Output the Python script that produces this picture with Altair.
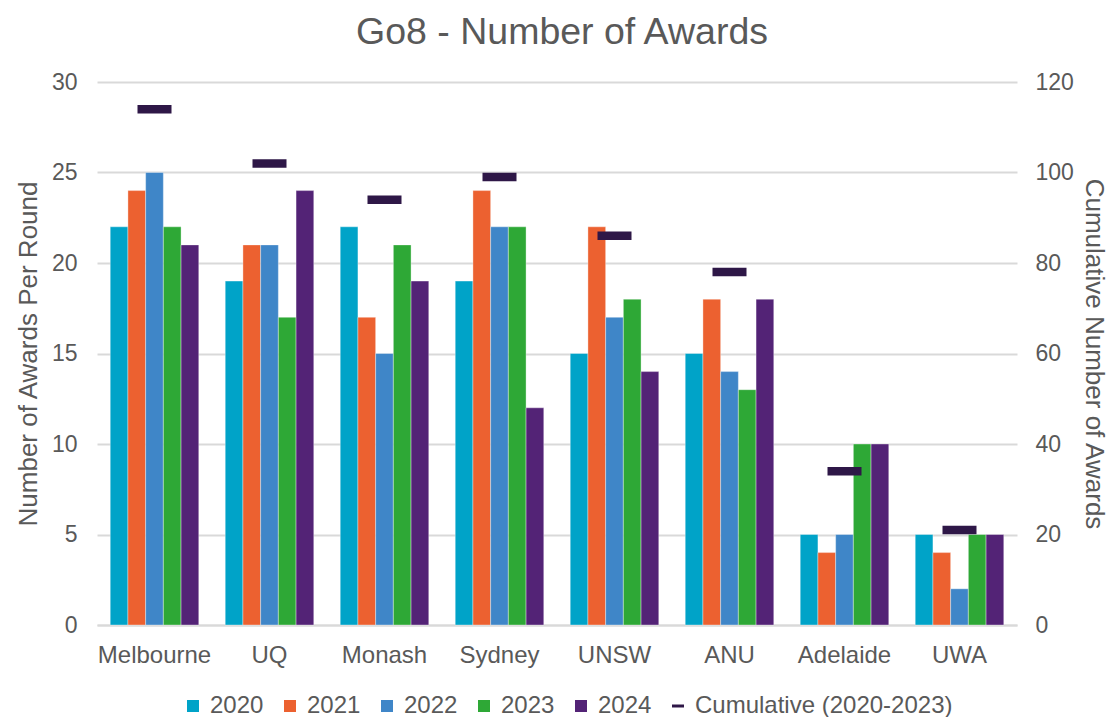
import altair as alt
import pandas as pd

universities = ["Melbourne", "UQ", "Monash", "Sydney", "UNSW", "ANU", "Adelaide", "UWA"]
years = ["2020", "2021", "2022", "2023", "2024"]
awards_2020 = [22, 19, 22, 19, 15, 15, 5, 5]
awards_2021 = [24, 21, 17, 24, 22, 18, 4, 4]
awards_2022 = [25, 21, 15, 22, 17, 14, 5, 2]
awards_2023 = [22, 17, 21, 22, 18, 13, 10, 5]
awards_2024 = [21, 24, 19, 12, 14, 18, 10, 5]
cumulative = [114, 102, 94, 99, 86, 78, 34, 21]
cum_label = "Cumulative (2020-2023)"
colors = ["#00a3c8", "#ec6130", "#3f86c8", "#2ea836", "#532376", "#2e1747"]

series_values = [awards_2020, awards_2021, awards_2022, awards_2023, awards_2024]
rows = []
for yr, vals in zip(years, series_values):
    for u, v in zip(universities, vals):
        rows.append({"University": u, "Series": yr, "Awards": v})
bar_df = pd.DataFrame(rows)
cum_df = pd.DataFrame({"University": universities, "Series": [cum_label] * len(universities),
                       "Cumulative": cumulative})

FONT = "Liberation Sans"
GREY = "#595959"
series_domain = years + [cum_label]
color_scale = alt.Scale(domain=series_domain, range=colors)
shape_scale = alt.Scale(domain=series_domain, range=["square"] * 5 + ["M-1,-0.25H1V0.25H-1Z"])

legend = alt.Legend(title=None, orient="none", direction="horizontal", legendX=84, legendY=612)

x = alt.X("University:N", sort=universities,
          scale=alt.Scale(paddingInner=0.23, paddingOuter=0.115),
          axis=alt.Axis(title=None, labelAngle=0, labelFontSize=24, labelColor=GREY, labelFont=FONT,
                        labelPadding=18, ticks=False, domainColor="#d9d9d9", domainWidth=2))

bars = alt.Chart(bar_df).mark_bar(stroke="white", strokeWidth=0.6, strokeOpacity=0.6).encode(
    x=x,
    xOffset=alt.XOffset("Series:N", sort=years),
    y=alt.Y("Awards:Q", scale=alt.Scale(domain=[0, 30]),
            axis=alt.Axis(title="Number of Awards Per Round", values=[0, 5, 10, 15, 20, 25, 30],
                          labelFontSize=23, labelColor=GREY, labelFont=FONT, labelPadding=20,
                          titleFontSize=26, titleColor=GREY, titleFont=FONT, titleFontWeight="normal",
                          titlePadding=10, ticks=False, domain=False, grid=True,
                          gridColor="#d9d9d9", gridWidth=2)),
    color=alt.Color("Series:N", scale=color_scale, legend=legend),
)

points = alt.Chart(cum_df).mark_point(filled=True, size=1156, opacity=1).encode(
    x=x,
    y=alt.Y("Cumulative:Q", scale=alt.Scale(domain=[0, 120]),
            axis=alt.Axis(title="Cumulative Number of Awards", orient="right",
                          values=[0, 20, 40, 60, 80, 100, 120],
                          labelFontSize=23, labelColor=GREY, labelFont=FONT, labelPadding=18,
                          titleFontSize=26, titleColor=GREY, titleFont=FONT, titleFontWeight="normal",
                          titlePadding=7, ticks=False, domain=False, grid=False)),
    color=alt.Color("Series:N", scale=color_scale, legend=legend),
    shape=alt.Shape("Series:N", scale=shape_scale, legend=legend),
)

chart = alt.layer(bars, points).resolve_scale(y="independent").properties(
    width=920, height=543,
    title=alt.Title("Go8 - Number of Awards", fontSize=37.5, color=GREY, font=FONT,
                    fontWeight="normal", anchor="middle", offset=20, dx=5),
    padding={"left": 7, "right": 3, "top": 5, "bottom": 5},
).configure_view(stroke=None).configure_legend(
    labelFontSize=24, labelColor=GREY, labelFont=FONT, symbolSize=144, columnPadding=14,
    labelOffset=5, symbolStrokeWidth=0, labelLimit=0, padding=0
)

chart.save("out.html", embed_options={"renderer": "svg", "actions": False})
